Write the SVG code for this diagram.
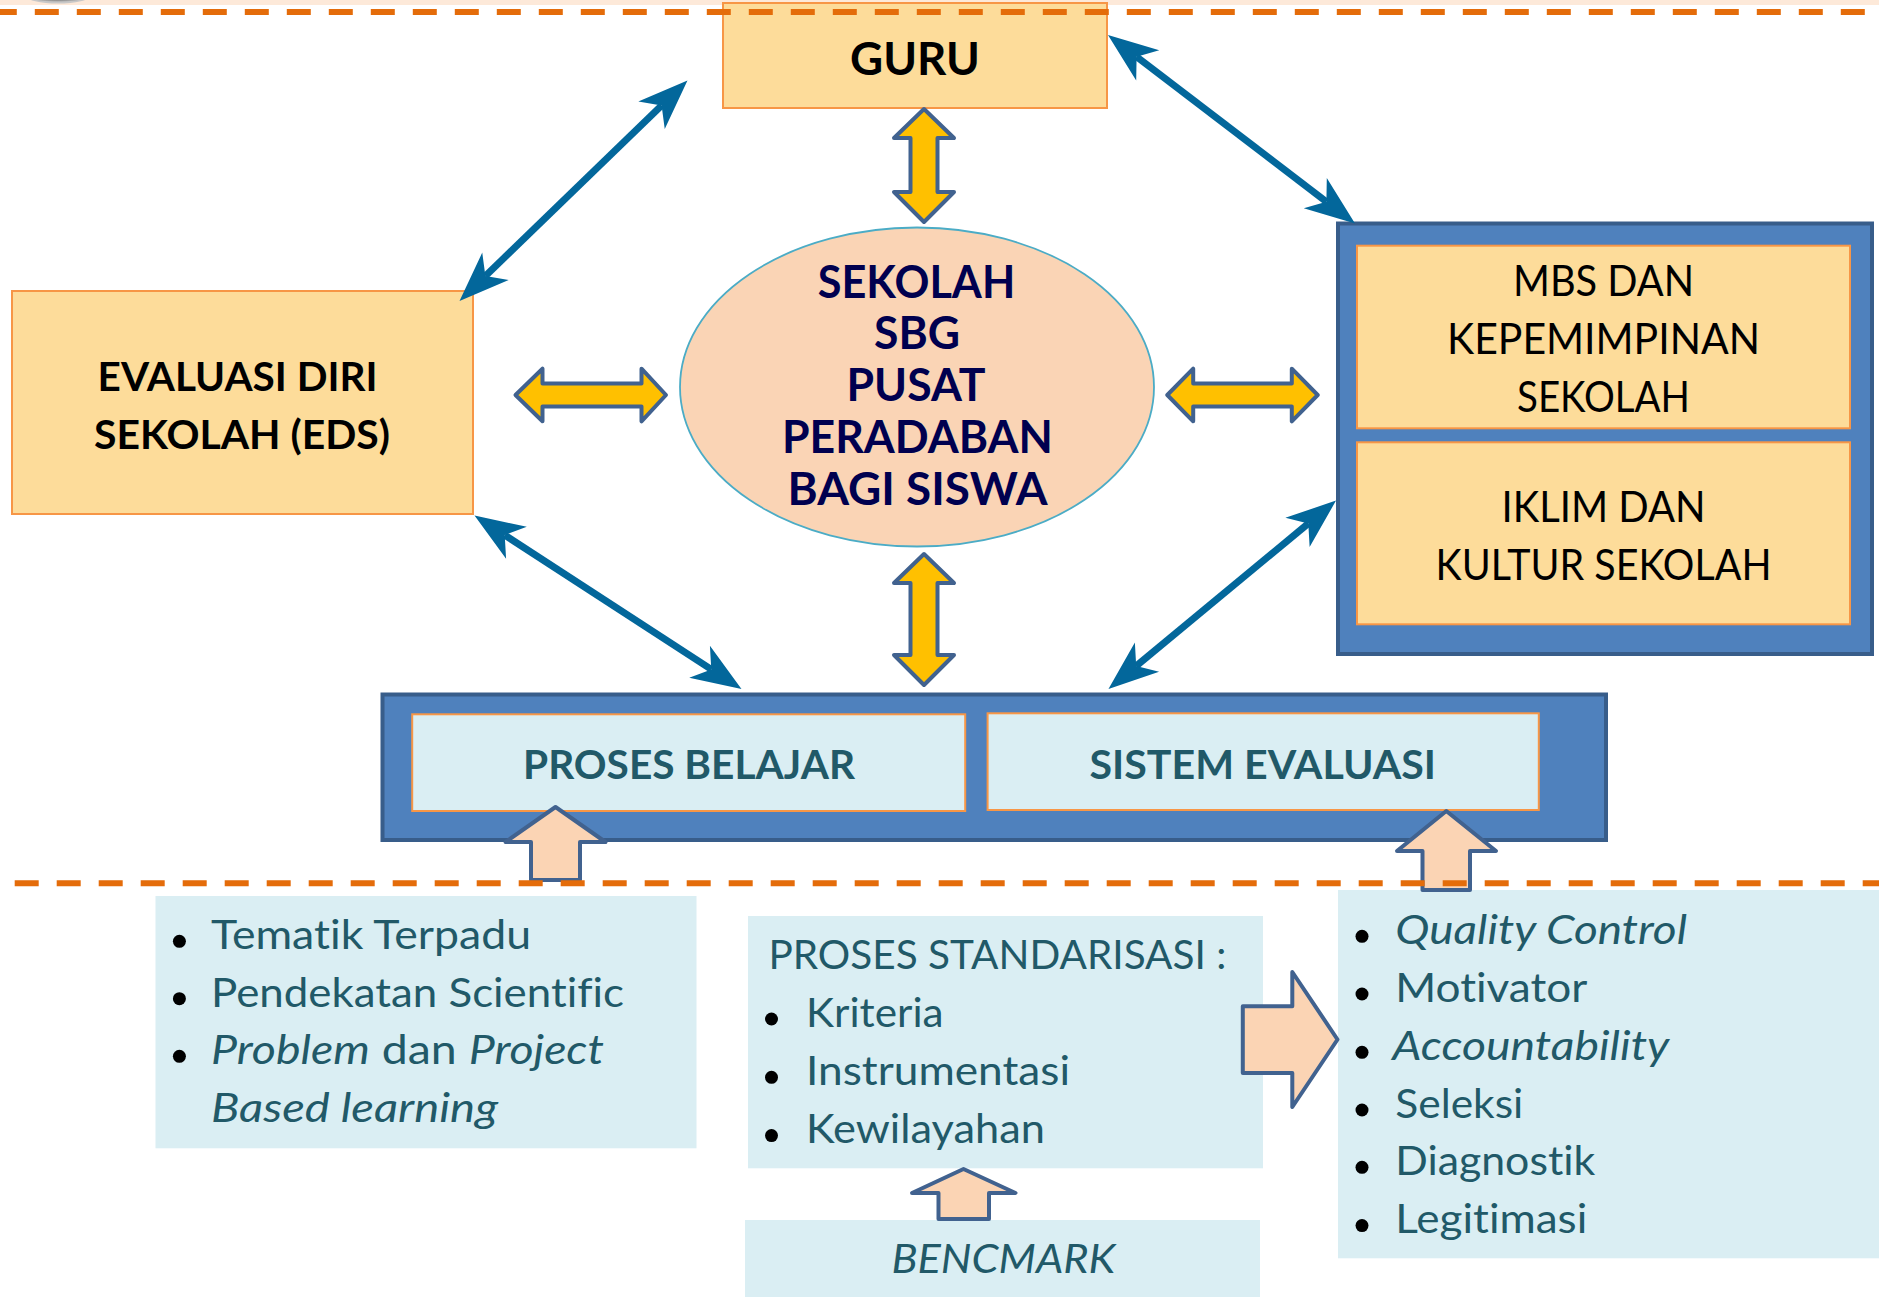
<svg xmlns="http://www.w3.org/2000/svg" width="1879" height="1297" viewBox="0 0 1879 1297">
  <style>
    .txt { font-family: Lato, "Open Sans", "Liberation Sans", sans-serif; font-variant-ligatures: none; font-feature-settings: "liga" 0, "clig" 0; }
    .bold { font-weight: 700; }
    .ital { font-style: italic; }
    .amber { fill: #FDDC9A; stroke: #F79646; stroke-width: 2; }
    .pale { fill: #DAEEF3; stroke: #F79646; stroke-width: 2; }
    .panel { fill: #DAEEF3; }
    .frame { fill: #4F81BD; stroke: #385D8A; stroke-width: 4; }
    .dbl { fill: #FFC000; stroke: #41628F; stroke-width: 4; stroke-linejoin: round; }
    .up { fill: #FBD4B4; stroke: #41628F; stroke-width: 4; stroke-linejoin: round; }
    .link { stroke: #03679B; stroke-width: 7; fill: none; marker-start: url(#stealth); marker-end: url(#stealth); }
    .dash { stroke: #E46C0A; stroke-width: 6; stroke-dasharray: 24 18; fill: none; }
    .teal { fill: #215968; }
    .navy { fill: #00004F; }
    .dot { fill: #000; }
  </style>
  <defs>
    <marker id="stealth" markerUnits="userSpaceOnUse" viewBox="0 0 52 40" markerWidth="52" markerHeight="40" refX="14" refY="20" orient="auto-start-reverse" overflow="visible">
      <path d="M50,20 L0,1 L14,20 L0,39 Z" fill="#03679B"/>
    </marker>
    <radialGradient id="knob" cx="0.5" cy="0.3" r="0.6">
      <stop offset="0" stop-color="#3A3A3A"/>
      <stop offset="0.7" stop-color="#6E6E6E"/>
      <stop offset="1" stop-color="#C8C8C8"/>
    </radialGradient>
  </defs>

  <rect width="1879" height="1297" fill="#FFFFFF"/>

  <!-- header strip -->
  <g id="header">
    <rect x="0" y="0" width="1879" height="5" fill="#FDE9D9"/>
    <ellipse cx="58" cy="-4" rx="32" ry="7.5" fill="url(#knob)"/>
  </g>

  <!-- nodes -->
  <g id="guru">
    <rect class="amber" x="723" y="3" width="384" height="105"/>
    <text class="txt bold" x="915" y="75" font-size="46" text-anchor="middle" textLength="130" lengthAdjust="spacingAndGlyphs" fill="#000">GURU</text>
  </g>

  <g id="eds">
    <rect class="amber" x="12" y="291" width="461" height="223"/>
    <text class="txt bold" font-size="40" text-anchor="middle" fill="#000">
      <tspan x="242.5" y="390.7" textLength="280" lengthAdjust="spacingAndGlyphs">EVALUASI DIRI</tspan>
      <tspan x="242" y="449" textLength="296" lengthAdjust="spacingAndGlyphs">SEKOLAH (EDS)</tspan>
    </text>
  </g>

  <g id="sekolah">
    <ellipse cx="917" cy="387" rx="237" ry="159.5" fill="#FAD4B5" stroke="#4BACC6" stroke-width="1.8"/>
    <g class="txt bold navy" font-size="46" text-anchor="middle">
      <text x="916.5" y="297.7" textLength="197.5" lengthAdjust="spacingAndGlyphs">SEKOLAH</text>
      <text x="917" y="349" textLength="86" lengthAdjust="spacingAndGlyphs">SBG</text>
      <text x="916" y="401" textLength="139" lengthAdjust="spacingAndGlyphs">PUSAT</text>
      <text x="917.4" y="453.3" textLength="271" lengthAdjust="spacingAndGlyphs">PERADABAN</text>
      <text x="917.6" y="505" textLength="260" lengthAdjust="spacingAndGlyphs">BAGI SISWA</text>
    </g>
  </g>

  <g id="manajemen">
    <rect class="frame" x="1338" y="223.5" width="534" height="430.5"/>
    <g id="mbs">
      <rect class="amber" x="1357" y="245.7" width="493" height="182.6"/>
      <g class="txt" font-size="42" text-anchor="middle" fill="#000">
        <text x="1603.5" y="296" textLength="181" lengthAdjust="spacingAndGlyphs">MBS DAN</text>
        <text x="1603.5" y="354" textLength="313" lengthAdjust="spacingAndGlyphs">KEPEMIMPINAN</text>
        <text x="1603.5" y="411.7" textLength="173" lengthAdjust="spacingAndGlyphs">SEKOLAH</text>
      </g>
    </g>
    <g id="iklim">
      <rect class="amber" x="1357" y="442.3" width="493" height="182"/>
      <g class="txt" font-size="42" text-anchor="middle" fill="#000">
        <text x="1603.5" y="521.7" textLength="204" lengthAdjust="spacingAndGlyphs">IKLIM DAN</text>
        <text x="1603.5" y="580" textLength="336" lengthAdjust="spacingAndGlyphs">KULTUR SEKOLAH</text>
      </g>
    </g>
  </g>

  <g id="pembelajaran">
    <rect class="frame" x="382.5" y="694.5" width="1223.5" height="145.5"/>
    <g id="proses-belajar">
      <rect class="pale" x="412.2" y="714.3" width="553" height="96.7"/>
      <text class="txt bold teal" x="689" y="779.3" font-size="41" text-anchor="middle" textLength="332" lengthAdjust="spacingAndGlyphs">PROSES BELAJAR</text>
    </g>
    <g id="sistem-evaluasi">
      <rect class="pale" x="987.6" y="713.3" width="551.2" height="96.7"/>
      <text class="txt bold teal" x="1262.8" y="779.3" font-size="41" text-anchor="middle" textLength="346.5" lengthAdjust="spacingAndGlyphs">SISTEM EVALUASI</text>
    </g>
  </g>

  <g id="metode">
    <rect class="panel" x="155.5" y="896" width="541" height="252.3"/>
    <circle class="dot" cx="179.4" cy="941.3" r="6.5"/>
    <circle class="dot" cx="179.4" cy="998.7" r="6.5"/>
    <circle class="dot" cx="179.4" cy="1056.3" r="6.5"/>
    <g class="txt teal" font-size="41">
      <text x="211" y="949.3" textLength="320" lengthAdjust="spacingAndGlyphs">Tematik Terpadu</text>
      <text x="211" y="1006.7" textLength="413" lengthAdjust="spacingAndGlyphs">Pendekatan Scientific</text>
      <text x="211" y="1064" textLength="393" lengthAdjust="spacingAndGlyphs"><tspan class="ital">Problem</tspan> dan <tspan class="ital">Project</tspan></text>
      <text class="ital" x="211" y="1122.3" textLength="287" lengthAdjust="spacingAndGlyphs">Based learning</text>
    </g>
  </g>

  <g id="standarisasi">
    <rect class="panel" x="748" y="916" width="515" height="252.3"/>
    <circle class="dot" cx="771.5" cy="1019" r="6.5"/>
    <circle class="dot" cx="771.5" cy="1077.3" r="6.5"/>
    <circle class="dot" cx="771.5" cy="1135.6" r="6.5"/>
    <g class="txt teal" font-size="40">
      <text x="768.4" y="969.3" textLength="458" lengthAdjust="spacingAndGlyphs">PROSES STANDARISASI :</text>
      <text x="806" y="1026.7" textLength="137.6" lengthAdjust="spacingAndGlyphs">Kriteria</text>
      <text x="806" y="1085" textLength="264" lengthAdjust="spacingAndGlyphs">Instrumentasi</text>
      <text x="806" y="1143.3" textLength="239" lengthAdjust="spacingAndGlyphs">Kewilayahan</text>
    </g>
  </g>

  <g id="bencmark">
    <rect class="panel" x="745" y="1220" width="515" height="77"/>
    <text class="txt ital teal" x="1003.4" y="1272.7" font-size="41" text-anchor="middle" textLength="224" lengthAdjust="spacingAndGlyphs">BENCMARK</text>
  </g>

  <g id="fungsi-evaluasi">
    <rect class="panel" x="1338" y="890" width="541" height="368.3"/>
    <circle class="dot" cx="1362" cy="936.3" r="6.5"/>
    <circle class="dot" cx="1362" cy="994" r="6.5"/>
    <circle class="dot" cx="1362" cy="1052.3" r="6.5"/>
    <circle class="dot" cx="1362" cy="1110" r="6.5"/>
    <circle class="dot" cx="1362" cy="1167.3" r="6.5"/>
    <circle class="dot" cx="1362" cy="1225.6" r="6.5"/>
    <g class="txt teal" font-size="41">
      <text class="ital" x="1395.3" y="944" textLength="291.7" lengthAdjust="spacingAndGlyphs">Quality Control</text>
      <text x="1395.3" y="1001.7" textLength="192" lengthAdjust="spacingAndGlyphs">Motivator</text>
      <text class="ital" x="1392.3" y="1060" textLength="277" lengthAdjust="spacingAndGlyphs">Accountability</text>
      <text x="1395.3" y="1117.7" textLength="128" lengthAdjust="spacingAndGlyphs">Seleksi</text>
      <text x="1395.3" y="1175" textLength="200" lengthAdjust="spacingAndGlyphs">Diagnostik</text>
      <text x="1395.3" y="1233.3" textLength="192" lengthAdjust="spacingAndGlyphs">Legitimasi</text>
    </g>
  </g>

  <!-- connectors -->
  <g id="connectors">
    <!-- two-way links to the school -->
    <path class="dbl" d="M924,109 L954,138 L937.5,138 L937.5,192 L954,192 L924,222 L894,192 L910.5,192 L910.5,138 L894,138 Z"/>
    <path class="dbl" d="M924,554 L954,583 L937.5,583 L937.5,655 L954,655 L924,685 L894,655 L910.5,655 L910.5,583 L894,583 Z"/>
    <path class="dbl" d="M515.5,395 L542.5,368.7 L542.5,383.5 L641.5,383.5 L641.5,368.7 L666,395 L641.5,421.3 L641.5,406.5 L542.5,406.5 L542.5,421.3 Z"/>
    <path class="dbl" d="M1167.3,395 L1193.2,368.7 L1193.2,383.5 L1291.8,383.5 L1291.8,368.7 L1317.7,395 L1291.8,421.3 L1291.8,406.5 L1193.2,406.5 L1193.2,421.3 Z"/>

    <!-- diagonal links -->
    <line class="link" x1="485.4" y1="276" x2="661.6" y2="105.5"/>
    <line class="link" x1="1326.4" y1="201.7" x2="1136.6" y2="56.8"/>
    <line class="link" x1="711.3" y1="669.4" x2="504.7" y2="535.1"/>
    <line class="link" x1="1136.2" y1="666" x2="1308.3" y2="523.5"/>

    <!-- feeding arrows -->
    <path class="up" d="M555.5,807 L605.5,842 L580,842 L580,880 L531,880 L531,842 L505.5,842 Z"/>
    <path class="up" d="M1446.3,811 L1496,851 L1470,851 L1470,890 L1422.5,890 L1422.5,851 L1397,851 Z"/>
    <path class="up" d="M963.5,1169 L1015.5,1193 L989,1193 L989,1219 L938.5,1219 L938.5,1193 L912,1193 Z"/>
    <path class="up" d="M1337.5,1039.5 L1292.3,1107 L1292.3,1073 L1242.8,1073 L1242.8,1006.3 L1292.3,1006.3 L1292.3,972 Z"/>
  </g>

  <!-- separators -->
  <g id="separators">
    <line class="dash" x1="0" y1="12" x2="1879" y2="12" stroke-dashoffset="7.2"/>
    <line class="dash" x1="14.7" y1="883.3" x2="1879" y2="883.3"/>
  </g>
</svg>
